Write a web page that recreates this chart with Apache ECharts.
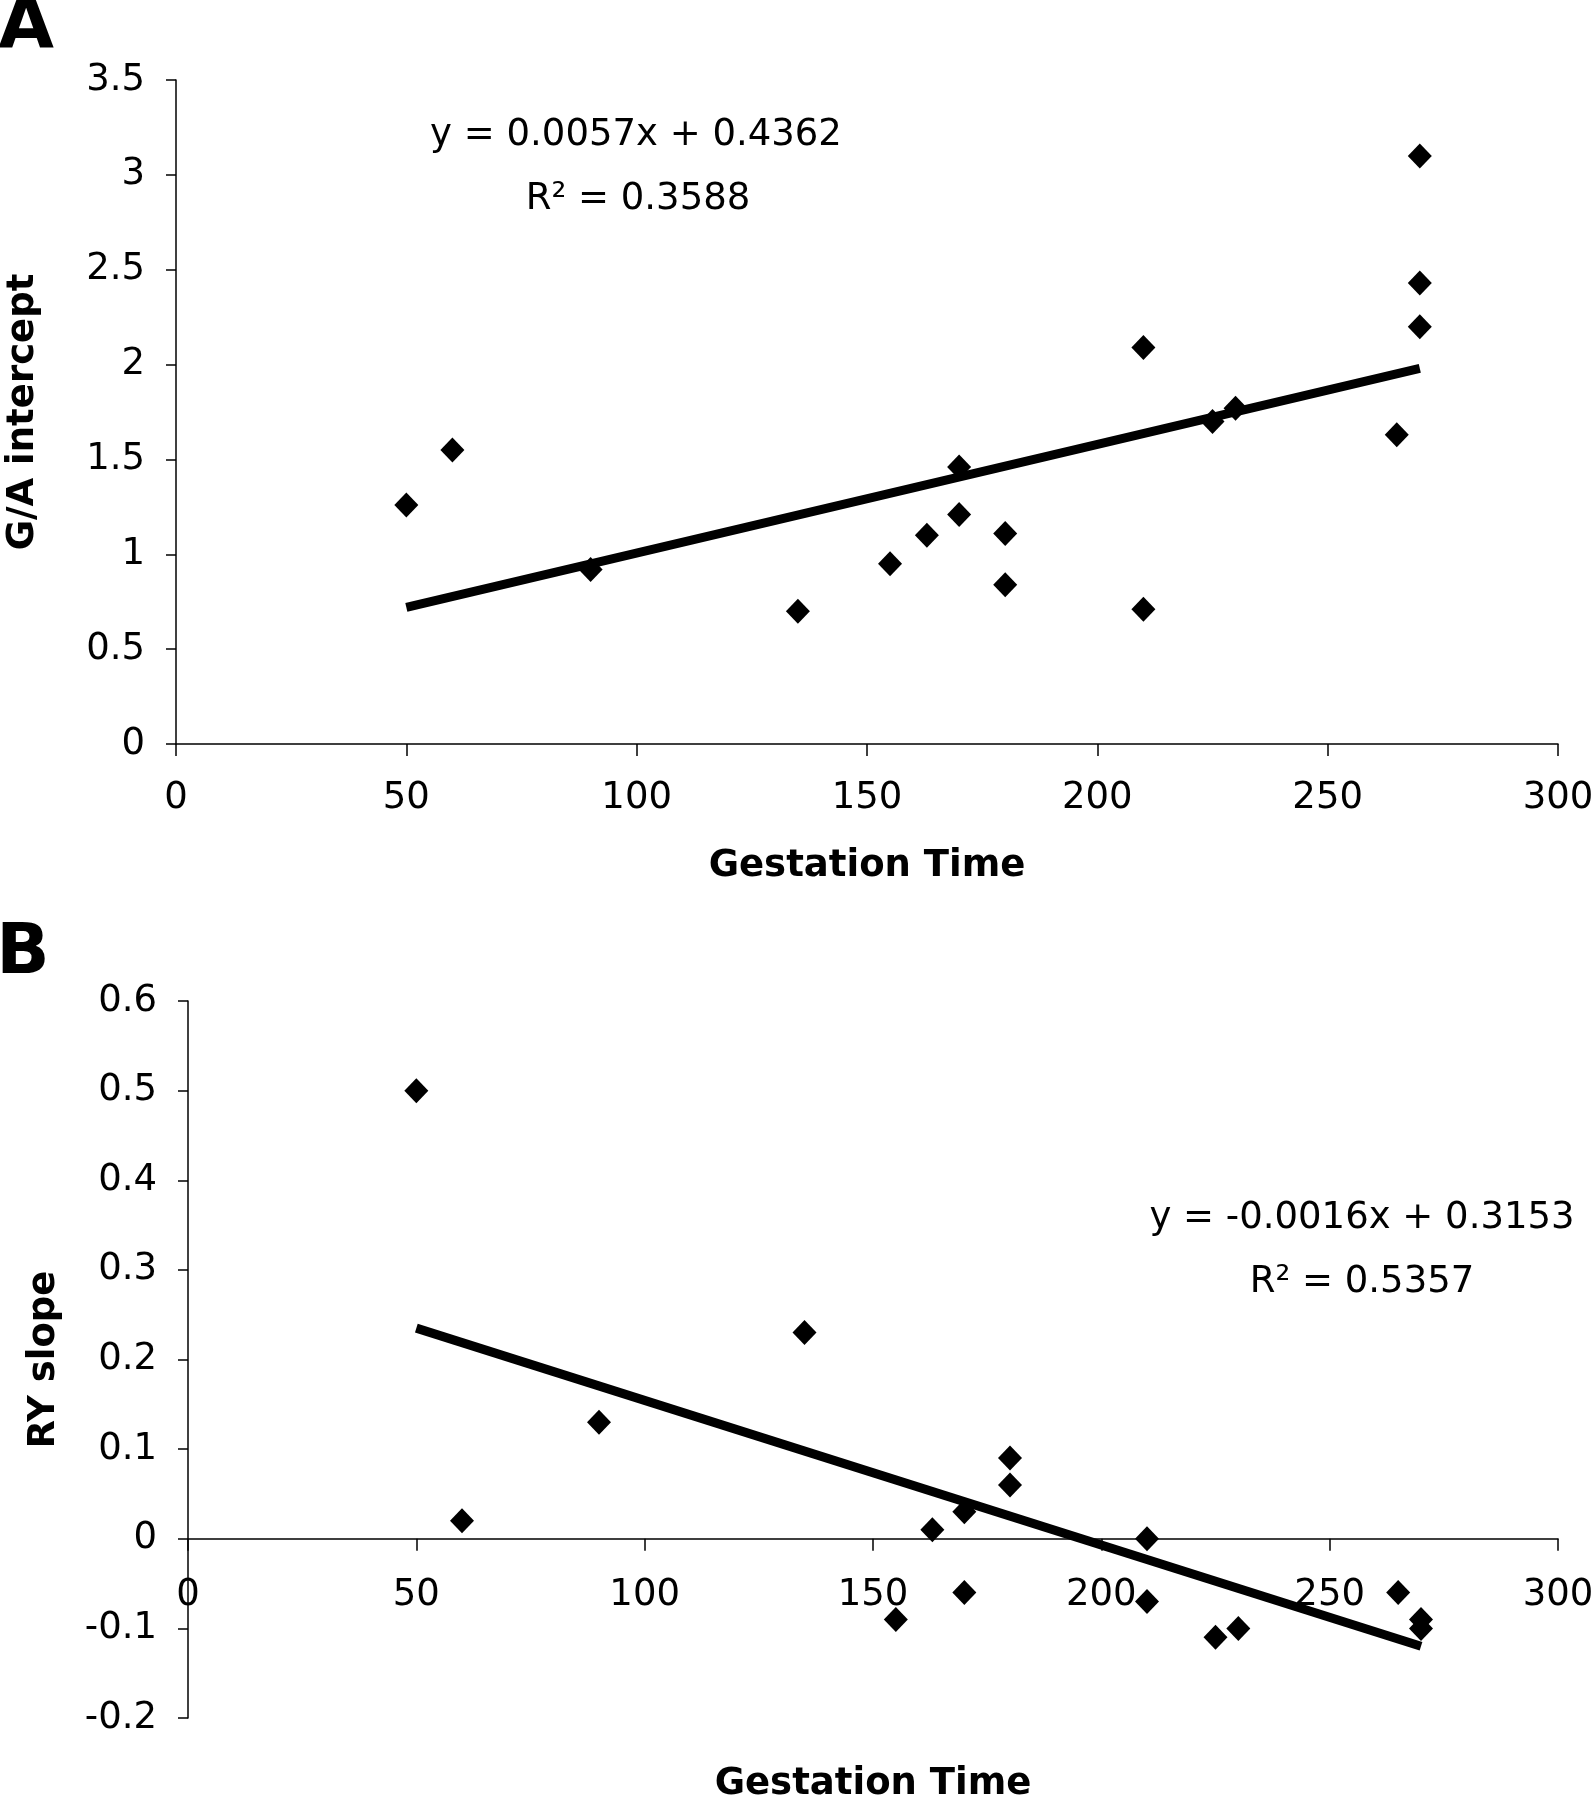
<!DOCTYPE html>
<html>
<head>
<meta charset="utf-8">
<script src="https://cdn.jsdelivr.net/npm/echarts@6/dist/echarts.min.js"></script>
<style>
html, body { margin: 0; background: #fff; }
#main { width: 1592px; height: 1800px; }
</style>
</head>
<body>
<div id="main"></div>
<script>
// panel A: G/A intercept vs gestation time
var gestA = [50, 60, 90, 135, 155, 163, 170, 170, 180, 180, 210, 210, 225, 230, 265, 270, 270, 270];
var interceptA = [1.26, 1.55, 0.92, 0.70, 0.95, 1.10, 1.46, 1.21, 1.11, 0.84, 2.09, 0.71, 1.70, 1.77, 1.63, 3.10, 2.43, 2.20];
var trendA = [[50, 0.72], [270, 1.98]];

// panel B: RY slope vs gestation time
var gestB = [50, 60, 90, 135, 155, 163, 170, 170, 180, 180, 210, 210, 225, 230, 265, 270, 270];
var slopeB = [0.50, 0.02, 0.13, 0.23, -0.09, 0.01, 0.03, -0.06, 0.09, 0.06, 0.00, -0.07, -0.11, -0.10, -0.06, -0.09, -0.10];
var trendB = [[50, 0.235], [270, -0.12]];

var FONT = 'DejaVu Sans';
var GRID_B_HEIGHT = 717;

function zip(xs, ys) {
    return xs.map(function (x, i) { return [x, ys[i]]; });
}

function xAxisFor(gridIndex, labelMargin, nameGap, offset) {
    return {
        type: 'value', gridIndex: gridIndex,
        min: 0, max: 300, interval: 50,
        offset: offset,
        name: 'Gestation Time', nameLocation: 'middle', nameGap: nameGap,
        nameTextStyle: { fontFamily: FONT, fontWeight: 'bold', fontSize: 37, color: '#000' },
        axisLine: { onZero: false, lineStyle: { color: '#000', width: 1.5 } },
        axisTick: { inside: false, length: 12, lineStyle: { color: '#000', width: 1.5 } },
        axisLabel: { fontFamily: FONT, fontSize: 37, color: '#000', margin: labelMargin },
        splitLine: { show: false }
    };
}

function yAxisFor(gridIndex, min, max, interval, name, nameGap) {
    return {
        type: 'value', gridIndex: gridIndex,
        min: min, max: max, interval: interval,
        name: name, nameLocation: 'middle', nameGap: nameGap,
        nameTextStyle: { fontFamily: FONT, fontWeight: 'bold', fontSize: 37, color: '#000' },
        axisLine: { show: true, lineStyle: { color: '#000', width: 1.5 } },
        axisTick: { show: true, length: 10, lineStyle: { color: '#000', width: 1.5 } },
        axisLabel: { fontFamily: FONT, fontSize: 37, color: '#000', margin: 31 },
        splitLine: { show: false }
    };
}

function pointsSeries(idx, data) {
    return {
        type: 'scatter', xAxisIndex: idx, yAxisIndex: idx,
        symbol: 'diamond', symbolSize: [24, 25],
        itemStyle: { color: '#000', opacity: 1 },
        data: data, z: 3
    };
}

function trendSeries(idx, data) {
    return {
        type: 'line', xAxisIndex: idx, yAxisIndex: idx,
        symbol: 'none', data: data,
        lineStyle: { color: '#000', width: 9, cap: 'butt' }, z: 2
    };
}

function label(text, x, y, size, bold) {
    return {
        type: 'text', x: x, y: y,
        style: {
            text: text, fill: '#000', align: 'center', verticalAlign: 'middle',
            font: (bold ? 'bold ' : '') + size + 'px "' + FONT + '"'
        }
    };
}

var chart = echarts.init(document.getElementById('main'));

// B's x axis sits on y = 0, which is 0.2 / 0.8 of the grid height above the bottom
var zeroOffsetB = -GRID_B_HEIGHT * 0.2 / 0.8;

chart.setOption({
    animation: false,
    backgroundColor: '#fff',
    grid: [
        { left: 176, right: 34, top: 80, height: 664, outerBoundsMode: 'none', containLabel: false },
        { left: 188, right: 34, top: 1001, height: GRID_B_HEIGHT, outerBoundsMode: 'none', containLabel: false }
    ],
    xAxis: [xAxisFor(0, 36, 104, 0), xAxisFor(1, 38, 227, zeroOffsetB)],
    yAxis: [
        yAxisFor(0, 0, 3.5, 0.5, 'G/A intercept', 134),
        yAxisFor(1, -0.2, 0.6, 0.1, 'RY slope', 125)
    ],
    graphic: [
        label('A', 26, 28, 72, true),
        label('B', 23, 955, 70, true),
        label('y = 0.0057x + 0.4362', 636, 135, 37, false),
        label('R² = 0.3588', 638, 199, 37, false),
        label('y = -0.0016x + 0.3153', 1362, 1218, 37, false),
        label('R² = 0.5357', 1362, 1282, 37, false)
    ],
    series: [
        trendSeries(0, trendA),
        pointsSeries(0, zip(gestA, interceptA)),
        trendSeries(1, trendB),
        pointsSeries(1, zip(gestB, slopeB))
    ]
});
</script>
</body>
</html>
